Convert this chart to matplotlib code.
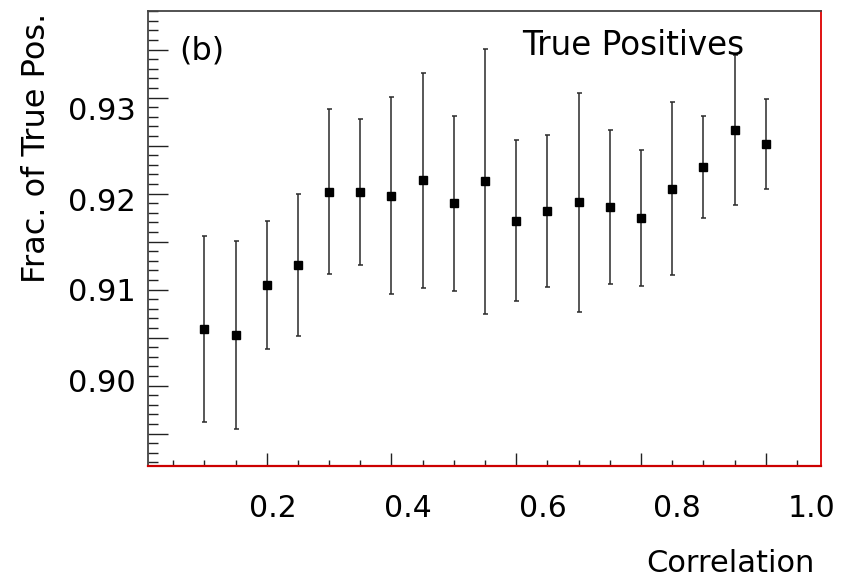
import matplotlib
matplotlib.use("Agg")
import matplotlib.pyplot as plt
from matplotlib.ticker import MultipleLocator, FixedLocator, NullFormatter

# Fraction of true positives versus correlation, with uncertainties
correlation = [0.10, 0.15, 0.20, 0.25, 0.30, 0.35, 0.40, 0.45, 0.50, 0.55,
               0.60, 0.65, 0.70, 0.75, 0.80, 0.85, 0.90, 0.95, 1.00]
frac_true_pos = [0.9059, 0.9053, 0.9105, 0.9126, 0.9202, 0.9202, 0.9198,
                 0.9214, 0.9190, 0.9213, 0.9172, 0.9182, 0.9191, 0.9186,
                 0.9175, 0.9205, 0.9228, 0.9266, 0.9252]
frac_err = [0.0097, 0.0098, 0.0067, 0.0074, 0.0086, 0.0076, 0.0103,
            0.0112, 0.0091, 0.0138, 0.0084, 0.0079, 0.0114, 0.0080,
            0.0071, 0.0090, 0.0053, 0.0078, 0.0047]

x_tick_labels = ["0.2", "0.4", "0.6", "0.8", "1.0"]
x_label_values = [0.2, 0.4, 0.6, 0.8, 1.0]
y_tick_labels = ["0.90", "0.91", "0.92", "0.93"]
y_label_values = [0.90, 0.91, 0.92, 0.93]

plt.rcParams["font.family"] = ["DejaVu Sans"]

fig = plt.figure(figsize=(8.5, 5.79), dpi=100)
ax = fig.add_axes([0.1745, 0.1957, 0.7914, 0.7853])

ax.errorbar(correlation, frac_true_pos, yerr=frac_err, fmt="s",
            color="black", markersize=6, ecolor="#2a2a2a", elinewidth=1.1,
            capsize=1.8, capthick=1.1, zorder=3)

ax.set_xlim(0.0102, 1.0887)
ax.set_ylim(0.891667, 0.939031)

# frame
for side in ("left", "top"):
    ax.spines[side].set_color("#444444")
    ax.spines[side].set_linewidth(1.3)
ax.spines["right"].set_color("#dd0000")
ax.spines["right"].set_linewidth(1.3)
ax.spines["bottom"].set_color("#cc0000")
ax.spines["bottom"].set_linewidth(1.6)

# tick marks (drawn inside the frame, no labels on this axis)
ax.xaxis.set_major_locator(MultipleLocator(0.2))
ax.xaxis.set_minor_locator(MultipleLocator(0.05))
ax.yaxis.set_major_locator(MultipleLocator(0.005))
ax.yaxis.set_minor_locator(MultipleLocator(0.001))
ax.xaxis.set_major_formatter(NullFormatter())
ax.yaxis.set_major_formatter(NullFormatter())
ax.tick_params(axis="x", which="major", direction="in", length=9.4,
               width=1.0, color="#222222", top=False, bottom=True)
ax.tick_params(axis="x", which="minor", direction="in", length=4.3,
               width=1.0, color="#222222", top=False, bottom=True)
ax.tick_params(axis="y", which="major", direction="in", length=14.4,
               width=1.0, color="#222222", left=True, right=False)
ax.tick_params(axis="y", which="minor", direction="in", length=7.2,
               width=1.0, color="#222222", left=True, right=False)

# label axes for the numbers along the frame
lab_x = fig.add_axes(ax.get_position(), frameon=False)
lab_x.patch.set_visible(False)
lab_x.set_xlim(0.01482, 1.01377)
lab_x.set_ylim(0.89066, 0.94070)
lab_x.xaxis.set_major_locator(FixedLocator(x_label_values))
lab_x.set_xticklabels(x_tick_labels, fontsize=21.5)
lab_x.yaxis.set_major_locator(FixedLocator(y_label_values))
lab_x.set_yticklabels(y_tick_labels, fontsize=22)
lab_x.tick_params(axis="x", length=0, pad=20.5)
lab_x.tick_params(axis="y", length=0, pad=8.9)
lab_x.set_zorder(ax.get_zorder() - 1)

fig.text(37 / 850, 1 - 13 / 579, "Frac. of True Pos.", rotation=90,
         ha="center", va="top", fontsize=23)
fig.text(815 / 850, 1 - 572 / 579, "Correlation", ha="right",
         va="baseline", fontsize=22)
fig.text(179 / 850, 1 - 59 / 579, "(b)", ha="left", va="baseline",
         fontsize=23)
fig.text(633 / 850, 1 - 55 / 579, "True Positives", ha="center",
         va="baseline", fontsize=23.5)

fig.savefig("out.png", dpi=100)
